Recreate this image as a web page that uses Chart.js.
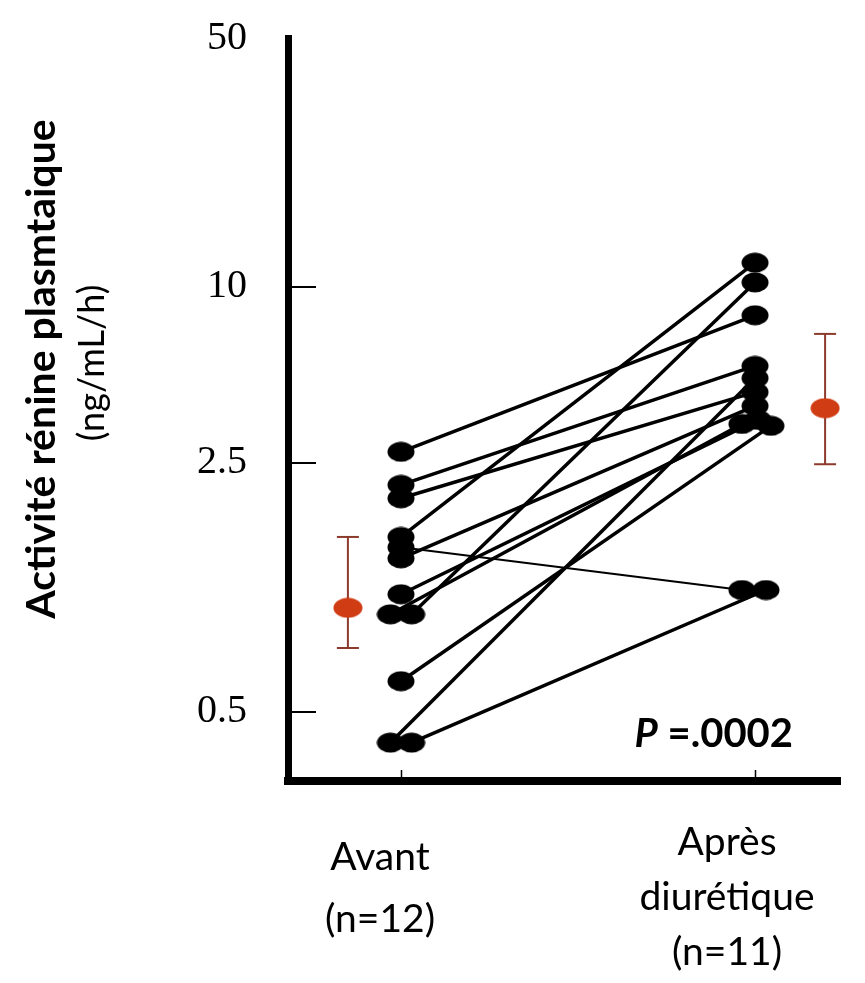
<!DOCTYPE html>
<html lang="fr">
<head>
<meta charset="UTF-8" />
<title>Activité rénine plasmatique</title>
<script src="https://cdn.jsdelivr.net/npm/chart.js"></script>
<style>
    html, body { margin: 0; padding: 0; background: #fff; }
</style>
</head>
<body>
<canvas id="reninChart" width="865" height="983"></canvas>

<script>
    // ARP individuelle (ng/mL/h), appariée patient par patient
    const avant = [2.73, 2.17, 1.99, 1.55, 1.45, 1.35, 1.07, 0.94, 0.94, 0.61, 0.41, 0.41];
    const apres = [8.0, 5.37, 4.37, 11.7, 1.10, 3.92, 3.51, 3.40, 10.3, 3.35, 4.88, 1.10];
    // décalage horizontal des points superposés
    const avantDx = [0, 0, 0, 0, 0, 0, 0, -0.03, 0.03, 0, -0.03, 0.03];
    const apresDx = [0, 0, 0, 0, -0.037, 0, 0.008, -0.037, 0, 0.045, 0, 0.031];
    const ligneFine = 4; // patient dont l'ARP baisse

    // moyenne et intervalle par groupe
    const moyennes = [0.98, 3.85];
    const bornesBasses = [0.756, 2.48];
    const bornesHautes = [1.55, 6.91];

    const groupes = [['Avant', '(n=12)'], ['Après', 'diurétique', '(n=11)']];
    const yTicks = [0.5, 2.5, 10, 50];
    const pValeur = '.0002';

    // axe log découpé : chaque palier a sa propre hauteur
    const paliers = [0.32, 0.5, 2.5, 10, 50];
    const fractions = [0, 0.0929, 0.428, 0.6649, 1];

    class SegmentedLogScale extends Chart.LogarithmicScale {
        static id = 'segmentedLog';

        getPixelForValue(value) {
            if (value === undefined || value === null || value <= 0) value = this.min;
            const l = Math.log10(value);
            let i = 0;
            while (i < paliers.length - 2 && l > Math.log10(paliers[i + 1])) i++;
            const l0 = Math.log10(paliers[i]), l1 = Math.log10(paliers[i + 1]);
            const t = (l - l0) / (l1 - l0);
            return this.getPixelForDecimal(fractions[i] + t * (fractions[i + 1] - fractions[i]));
        }

        getValueForPixel(pixel) {
            const d = this.getDecimalForPixel(pixel);
            let i = 0;
            while (i < fractions.length - 2 && d > fractions[i + 1]) i++;
            const t = (d - fractions[i]) / (fractions[i + 1] - fractions[i]);
            const l0 = Math.log10(paliers[i]), l1 = Math.log10(paliers[i + 1]);
            return Math.pow(10, l0 + t * (l1 - l0));
        }
    }
    Chart.register(SegmentedLogScale);

    function ellipse(w, h, color) {
        const c = document.createElement('canvas');
        c.width = w;
        c.height = h;
        const g = c.getContext('2d');
        g.fillStyle = color;
        g.beginPath();
        g.ellipse(w / 2, h / 2, w / 2 - 0.5, h / 2 - 0.5, 0, 0, Math.PI * 2);
        g.fill();
        return c;
    }
    const pointNoir = ellipse(28, 21, '#000');
    const pointRouge = ellipse(30, 21, '#d03c14');
    const brun = '#8c3a2c';

    // segments avant -> après
    const lignes = avant.map((v, i) => ({
        data: [{ x: 1 + avantDx[i], y: v }, { x: 2 + apresDx[i], y: apres[i] }],
        showLine: true,
        borderColor: '#000',
        borderWidth: i === ligneFine ? 2 : 3.5,
        pointRadius: 0,
        order: 3
    }));

    const points = [
        { data: avant.map((v, i) => ({ x: 1 + avantDx[i], y: v })) },
        { data: apres.map((v, i) => ({ x: 2 + apresDx[i], y: v })) }
    ].map(d => Object.assign(d, { pointStyle: pointNoir, pointRadius: 14, order: 1 }));

    const xGroupe = [0.85, 2.198];
    const barres = moyennes.map((m, i) => ({
        data: [{ x: xGroupe[i], y: bornesBasses[i] }, { x: xGroupe[i], y: bornesHautes[i] }],
        showLine: true,
        borderColor: brun,
        borderWidth: 2,
        pointStyle: 'line',
        pointRadius: 11,
        pointBorderColor: brun,
        pointBorderWidth: 2,
        order: 2
    }));

    const moyennesSet = {
        data: moyennes.map((m, i) => ({ x: xGroupe[i], y: m })),
        pointStyle: pointRouge,
        pointRadius: 14,
        order: 0
    };

    // graduations internes, titre d'axe, libellés des groupes, valeur p
    const decor = {
        id: 'decor',
        afterDraw(chart) {
            const { ctx, chartArea, scales: { x, y } } = chart;
            ctx.save();
            ctx.strokeStyle = '#000';
            ctx.fillStyle = '#000';

            ctx.lineWidth = 2;
            yTicks.filter(v => v < 50).forEach(v => {
                const py = Math.round(y.getPixelForValue(v));
                ctx.beginPath();
                ctx.moveTo(chartArea.left, py);
                ctx.lineTo(chartArea.left + 28, py);
                ctx.stroke();
            });
            ctx.lineWidth = 1.5;
            [1, 2].forEach(v => {
                const px = Math.round(x.getPixelForValue(v)) + 0.5;
                ctx.beginPath();
                ctx.moveTo(px, chartArea.bottom);
                ctx.lineTo(px, chartArea.bottom - 11);
                ctx.stroke();
            });

            ctx.textAlign = 'center';
            ctx.textBaseline = 'alphabetic';
            ctx.save();
            ctx.translate(55, 369);
            ctx.rotate(-Math.PI / 2);
            ctx.font = 'bold 41px Lato';
            ctx.fillText('Activité rénine plasmtaique', 0, 0);
            ctx.restore();
            ctx.save();
            ctx.translate(104, 363);
            ctx.rotate(-Math.PI / 2);
            ctx.font = '36px Lato';
            ctx.fillText('(ng/mL/h)', 0, 0);
            ctx.restore();

            ctx.font = '39px Lato';
            const cx0 = x.getPixelForValue(1) - 21;
            groupes[0].forEach((t, k) => ctx.fillText(t, cx0, 870 + k * 62));
            const cx1 = x.getPixelForValue(2) - 28;
            groupes[1].forEach((t, k) => ctx.fillText(t, cx1, 855 + k * 55));

            ctx.textAlign = 'left';
            ctx.font = 'bold 40px Lato';
            const reste = ' =' + pValeur;
            const wReste = ctx.measureText(reste).width;
            ctx.font = 'italic bold 40px Lato';
            const wP = ctx.measureText('P').width;
            const xp = chartArea.right - 47 - wReste - wP;
            ctx.fillText('P', xp, 747);
            ctx.font = 'bold 40px Lato';
            ctx.fillText(reste, xp + wP, 747);
            ctx.restore();
        }
    };

    new Chart(document.getElementById('reninChart'), {
        type: 'scatter',
        data: { datasets: [moyennesSet, ...points, ...barres, ...lignes] },
        options: {
            responsive: false,
            animation: false,
            events: [],
            layout: { padding: { top: 38, right: 25, left: 0, bottom: 0 } },
            plugins: { legend: { display: false }, tooltip: { enabled: false } },
            scales: {
                x: {
                    type: 'linear',
                    min: 0.6808,
                    max: 2.2401,
                    ticks: { display: false },
                    grid: { drawOnChartArea: false, drawTicks: false },
                    border: { display: true, color: '#000', width: 8 },
                    afterFit: s => { s.height = 983 - 781; }
                },
                y: {
                    type: 'segmentedLog',
                    min: paliers[0],
                    max: paliers[paliers.length - 1],
                    afterBuildTicks: s => { s.ticks = yTicks.map(v => ({ value: v })); },
                    ticks: {
                        callback: v => String(v),
                        color: '#000',
                        padding: 41,
                        font: { family: 'Liberation Serif', size: 40 }
                    },
                    grid: { drawOnChartArea: false, drawTicks: false },
                    border: { display: true, color: '#000', width: 7 },
                    afterFit: s => {
                        s.width = 288;
                        // l'étiquette du haut peut déborder dans la marge
                        s.paddingTop = 0;
                        s.paddingBottom = 0;
                    }
                }
            }
        },
        plugins: [decor]
    });
</script>
</body>
</html>
